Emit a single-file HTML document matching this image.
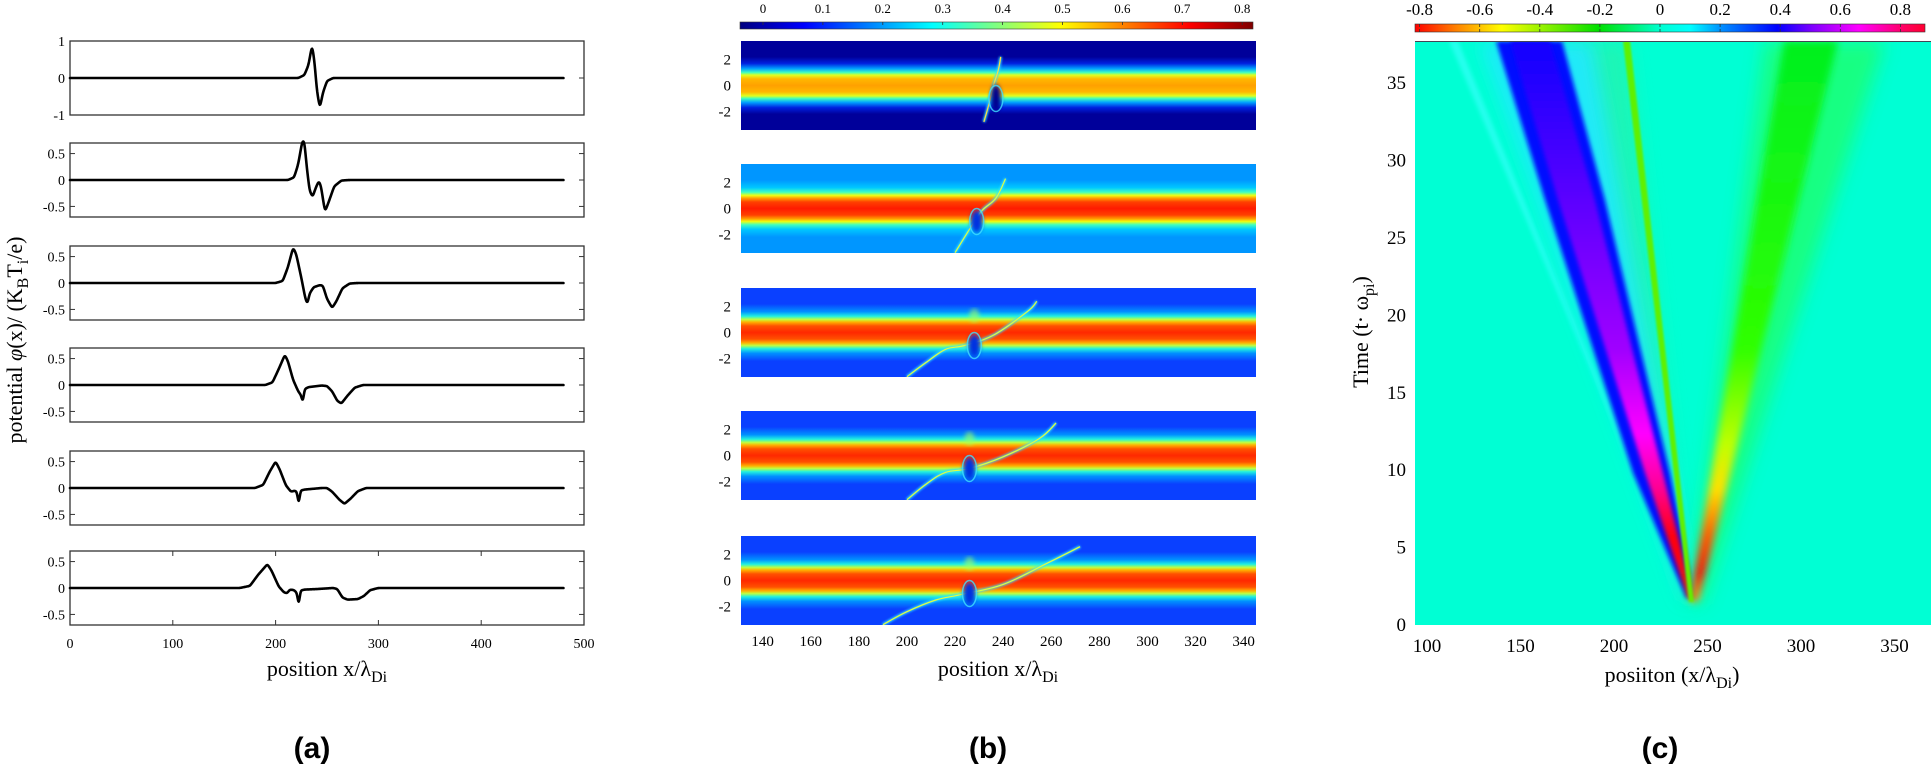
<!DOCTYPE html>
<html><head><meta charset="utf-8">
<style>html,body{margin:0;padding:0;background:#fff;}svg{display:block}</style>
</head><body>
<svg id="s" width="1931" height="766" xmlns="http://www.w3.org/2000/svg" font-family="'Liberation Serif', serif">
<defs>
<linearGradient id="jet" x1="0" x2="1" y1="0" y2="0">
<stop offset="0" stop-color="#00007f"/><stop offset="0.125" stop-color="#0000ff"/><stop offset="0.375" stop-color="#00ffff"/><stop offset="0.625" stop-color="#ffff00"/><stop offset="0.875" stop-color="#ff0000"/><stop offset="1" stop-color="#7f0000"/>
</linearGradient>
<linearGradient id="hsv" x1="0" x2="1" y1="0" y2="0">
<stop offset="0" stop-color="#ff0000"/><stop offset="0.08" stop-color="#ff8000"/><stop offset="0.17" stop-color="#ffff00"/><stop offset="0.36" stop-color="#00e000"/><stop offset="0.48" stop-color="#00ffd0"/><stop offset="0.54" stop-color="#00ffff"/><stop offset="0.6" stop-color="#0090ff"/><stop offset="0.71" stop-color="#0000ff"/><stop offset="0.78" stop-color="#8000ff"/><stop offset="0.87" stop-color="#ff00ff"/><stop offset="0.96" stop-color="#ff0060"/><stop offset="1" stop-color="#ff0030"/>
</linearGradient>
<linearGradient id="lband" gradientUnits="userSpaceOnUse" x1="0" y1="41" x2="0" y2="602">
<stop offset="0" stop-color="#1000ff"/><stop offset="0.3" stop-color="#6000ff"/><stop offset="0.55" stop-color="#a000ff"/><stop offset="0.7" stop-color="#ff00ff"/><stop offset="0.8" stop-color="#ff0090"/><stop offset="0.88" stop-color="#ff0010"/><stop offset="1" stop-color="#ff0000"/>
</linearGradient>
<linearGradient id="rband" gradientUnits="userSpaceOnUse" x1="0" y1="41" x2="0" y2="602">
<stop offset="0" stop-color="#00f020"/><stop offset="0.55" stop-color="#30ff00"/><stop offset="0.72" stop-color="#c0ff00"/><stop offset="0.8" stop-color="#ffe000"/><stop offset="0.88" stop-color="#ff6000"/><stop offset="0.95" stop-color="#ff1000"/><stop offset="1" stop-color="#ffa000"/>
</linearGradient>
<filter id="bl2" x="-50%" y="-10%" width="200%" height="120%"><feGaussianBlur stdDeviation="2"/></filter>
<filter id="bl4" x="-50%" y="-10%" width="200%" height="120%"><feGaussianBlur stdDeviation="4"/></filter>
<filter id="bl9" x="-50%" y="-10%" width="200%" height="120%"><feGaussianBlur stdDeviation="9"/></filter>
<filter id="bl1" x="-50%" y="-50%" width="200%" height="200%"><feGaussianBlur stdDeviation="1"/></filter>
<clipPath id="cc"><rect x="1415" y="41" width="516" height="584"/></clipPath>
</defs>
</svg>
<script>
var S=document.getElementById('s'),NS='http://www.w3.org/2000/svg';
function el(t,a,txt,p){var e=document.createElementNS(NS,t);for(var k in a)e.setAttribute(k,a[k]);if(txt!=null)e.textContent=txt;(p||S).appendChild(e);return e;}
function spline(pts){var d='M'+pts[0][0].toFixed(2)+' '+pts[0][1].toFixed(2);for(var i=0;i<pts.length-1;i++){var p0=pts[i-1]||pts[i],p1=pts[i],p2=pts[i+1],p3=pts[i+2]||p2;var t=0.18;
d+=' C'+(p1[0]+(p2[0]-p0[0])*t).toFixed(2)+' '+(p1[1]+(p2[1]-p0[1])*t).toFixed(2)+' '+(p2[0]-(p3[0]-p1[0])*t).toFixed(2)+' '+(p2[1]-(p3[1]-p1[1])*t).toFixed(2)+' '+p2[0].toFixed(2)+' '+p2[1].toFixed(2);}return d;}
var defs=S.querySelector('defs');
// ---------- Panel a ----------
var tops=[41,143,246,348,451,551],H=74,X0=70,X1=584;
function ax(X){return X0+X*(X1-X0)/500;}
var curves=[
[[0,0],[222,0],[228,0.08],[232,0.35],[235.5,0.9],[238,0.4],[240,-0.3],[243,-0.82],[246,-0.4],[250,-0.08],[256,0],[480,0]],
[[0,0],[212,0],[218,0.05],[222,0.3],[226,0.74],[228,0.74],[230,0.3],[233,-0.2],[236,-0.32],[239,-0.15],[242,-0.02],[244,-0.1],[248,-0.6],[251,-0.45],[257,-0.12],[264,-0.01],[272,0],[480,0]],
[[0,0],[200,0],[207,0.04],[212,0.3],[217,0.67],[220,0.55],[225,0.1],[229,-0.3],[231,-0.4],[233,-0.2],[237,-0.08],[243,-0.04],[246,-0.05],[250,-0.3],[255,-0.47],[259,-0.35],[265,-0.1],[272,-0.01],[280,0],[480,0]],
[[0,0],[190,0],[197,0.05],[203,0.3],[209,0.57],[212,0.45],[217,0.1],[222,-0.12],[225,-0.2],[226.5,-0.36],[228,-0.08],[232,-0.04],[245,-0.01],[250,-0.02],[255,-0.12],[260,-0.3],[264,-0.35],[270,-0.2],[277,-0.05],[285,0],[480,0]],
[[0,0],[180,0],[188,0.06],[194,0.3],[200,0.5],[204,0.35],[210,0.05],[215,-0.07],[219,-0.05],[221,-0.08],[222.5,-0.36],[224,-0.05],[228,-0.03],[245,0],[250,0],[255,-0.07],[262,-0.22],[267,-0.3],[273,-0.2],[280,-0.06],[288,0],[480,0]],
[[0,0],[165,0],[175,0.04],[183,0.25],[192,0.45],[196,0.33],[203,0.03],[208,-0.08],[211,-0.1],[214,-0.03],[218,-0.04],[221,-0.1],[222.5,-0.38],[224,-0.05],[228,-0.03],[240,-0.02],[256,0],[260,-0.02],[265,-0.18],[270,-0.22],[280,-0.21],[286,-0.15],[292,-0.04],[300,0],[480,0]]];
function interp(pts,X){for(var j=0;j<pts.length-1;j++){if(X>=pts[j][0]&&X<=pts[j+1][0]){var f=(X-pts[j][0])/(pts[j+1][0]-pts[j][0]);return pts[j][1]+f*(pts[j+1][1]-pts[j][1]);}}return 0;}
for(var i=0;i<6;i++){var T=tops[i];var rng=i==0?1:0.7;
var ay=function(v){return T+(rng-v)/(2*rng)*H;};
el('rect',{x:X0,y:T,width:X1-X0,height:H,fill:'none',stroke:'#333','stroke-width':1.3});
var tk=i==0?[1,0,-1]:[0.5,0,-0.5];
tk.forEach(function(v){var y=ay(v);el('line',{x1:X0,x2:X0+5,y1:y,y2:y,stroke:'#333'});el('line',{x1:X1-5,x2:X1,y1:y,y2:y,stroke:'#333'});
el('text',{x:X0-5,y:y+5,'text-anchor':'end','font-size':14},String(v));});
var raw=[],N=960;for(var k=0;k<=N;k++)raw.push(interp(curves[i],k*0.5));
var sm=[],sig=1.6,w=[],R=6;for(var q=-R;q<=R;q++)w.push(Math.exp(-q*q/(2*sig*sig)));
for(var k=0;k<=N;k++){var a=0,b=0;for(var q=-R;q<=R;q++){var kk=k+q;if(kk<0||kk>N)continue;a+=raw[kk]*w[q+R];b+=w[q+R];}sm.push(a/b);}
var d='';for(var k=0;k<=N;k++){d+=(k?'L':'M')+ax(k*0.5).toFixed(2)+' '+ay(sm[k]).toFixed(2);}
el('path',{d:d,fill:'none',stroke:'#000','stroke-width':2.6,'stroke-linejoin':'round','stroke-linecap':'round'});
if(i==5){for(var X=0;X<=500;X+=100){var x=ax(X);el('line',{x1:x,x2:x,y1:T,y2:T+5,stroke:'#333'});el('line',{x1:x,x2:x,y1:T+H-5,y2:T+H,stroke:'#333'});el('text',{x:x,y:648,'text-anchor':'middle','font-size':14},String(X));}}
}
el('text',{x:327,y:676,'text-anchor':'middle','font-size':22},null).innerHTML='position x/λ<tspan font-size="16" dy="6">Di</tspan>';
var yl=el('text',{transform:'translate(22,340) rotate(-90)','text-anchor':'middle','font-size':22});
yl.innerHTML='potential <tspan font-style="italic">φ</tspan>(x)/ (K<tspan font-size="16" dy="6">B</tspan><tspan dy="-6">T</tspan><tspan font-size="16" dy="6">i</tspan><tspan dy="-6">/e)</tspan>';
// ---------- Panel b ----------
el('rect',{x:740,y:22,width:513,height:7,fill:'url(#jet)',stroke:'#333','stroke-width':0.6});
for(var v=0;v<=8;v++){var x=763+v*59.9;el('line',{x1:x,x2:x,y1:22,y2:25,stroke:'#333','stroke-width':0.8});el('text',{x:x,y:13,'text-anchor':'middle','font-size':13},v==0?'0':(v/10).toFixed(1));}
var bt=[41,164,288,411,536],BH=89,BX0=741,BX1=1256;
function bx(X){return BX0+(X-131)*2.405;}
var schemes=[
{bg:'#00009a',st:[[0,'#ffa000'],[0.5,'#ffb800'],[0.8,'#e0ff20'],[1.0,'#40ffc0'],[1.3,'#00a0ff'],[1.7,'#0020e0'],[2.2,'#00009a']]},
{bg:'#0096ff',st:[[0,'#ff1a00'],[0.5,'#ff4000'],[0.8,'#ffa000'],[1.0,'#f0ff10'],[1.25,'#40ffc0'],[1.6,'#00c8ff'],[2.2,'#0096ff']]},
{bg:'#0a40ff',st:[[0,'#ff2800'],[0.5,'#ff5000'],[0.8,'#ffb000'],[1.0,'#c0ff40'],[1.25,'#20f0e0'],[1.6,'#0090ff'],[2.2,'#0a40ff']]}];
for(var s=0;s<3;s++){var g=el('linearGradient',{id:'bg'+s,x1:0,x2:0,y1:0,y2:1},null,defs);var st=schemes[s].st;var arr=[];
for(var j=st.length-1;j>=0;j--)arr.push([0.5-st[j][0]*13/BH,st[j][1]]);for(var j=1;j<st.length;j++)arr.push([0.5+st[j][0]*13/BH,st[j][1]]);
arr.forEach(function(a){el('stop',{offset:a[0].toFixed(4),'stop-color':a[1]},null,g);});}
var fil=[
[[232,-2.8],[234,-1.5],[236,0],[238,1.2],[239,2.2]],
[[220,-3.4],[226,-1.6],[231,-0.2],[237,0.8],[241,2.3]],
[[200,-3.4],[208,-2.3],[216,-1.3],[224,-1.0],[236,-0.2],[250,1.6],[254,2.4]],
[[200,-3.4],[208,-2.2],[216,-1.3],[226,-1.0],[240,-0.1],[255,1.3],[262,2.5]],
[[190,-3.4],[200,-2.4],[212,-1.5],[222,-1.1],[240,-0.3],[258,1.3],[272,2.6]]];
for(var i=0;i<5;i++){var T=bt[i],mid=T+BH/2,sc=i==0?0:(i==1?1:2);
var cid='bc'+i;var cp=el('clipPath',{id:cid},null,defs);el('rect',{x:BX0,y:T,width:BX1-BX0,height:BH},null,cp);
var gg=el('g',{'clip-path':'url(#'+cid+')'});
el('rect',{x:BX0,y:T,width:BX1-BX0,height:BH,fill:'url(#bg'+sc+')'},null,gg);
var hx=i==0?237:(i==1?229:(i==2?228:226));
if(i>=2){el('ellipse',{cx:bx(hx),cy:mid-1.3*13,rx:5,ry:7,fill:'#a0ff60',opacity:0.6,filter:'url(#bl2)'},null,gg);}
var pts=fil[i].map(function(p){return [bx(p[0]),mid-p[1]*13];});
el('path',{d:spline(pts),fill:'none',stroke:'#30e0ff','stroke-width':3,opacity:0.9,filter:'url(#bl1)'},null,gg);
el('path',{d:spline(pts),fill:'none',stroke:i==0?'#ffe040':'#e0ff40','stroke-width':1.2},null,gg);
el('ellipse',{cx:bx(hx),cy:mid+1.0*13,rx:i==0?5:6,ry:i==0?14:11,fill:i==0?'#000090':'#0030e0',filter:'url(#bl2)'},null,gg);
el('ellipse',{cx:bx(hx),cy:mid+1.0*13,rx:7,ry:13,fill:'none',stroke:'#40e0ff','stroke-width':1.5,opacity:0.8},null,gg);
[2,0,-2].forEach(function(v){el('text',{x:731,y:mid-v*13+5,'text-anchor':'end','font-size':15},String(v));});
}
for(var X=140;X<=340;X+=20){el('text',{x:bx(X),y:646,'text-anchor':'middle','font-size':15},String(X));}
el('text',{x:998,y:676,'text-anchor':'middle','font-size':22}).innerHTML='position x/λ<tspan font-size="16" dy="6">Di</tspan>';
// ---------- Panel c ----------
el('rect',{x:1415,y:24,width:510,height:8,fill:'url(#hsv)',stroke:'#333','stroke-width':0.6});
for(var k=-4;k<=4;k++){var v=k*0.2,x=1660+v*300.5;el('line',{x1:x,x2:x,y1:24,y2:27,stroke:'#333','stroke-width':0.8});el('line',{x1:x,x2:x,y1:29,y2:32,stroke:'#333','stroke-width':0.8});
el('text',{x:x,y:15,'text-anchor':'middle','font-size':17},k==0?'0':v.toFixed(1));}
var cg=el('g',{'clip-path':'url(#cc)'});
el('rect',{x:1415,y:41,width:516,height:584,fill:'#00ffd4'},null,cg);
el('polygon',{points:'1449,41 1458,41 1690,600',fill:'#40ffff',opacity:0.6,filter:'url(#bl2)'},null,cg);
el('polygon',{points:'1565,41 1628,41 1690,600 1684,600',fill:'#30f0a0',opacity:0.6,filter:'url(#bl9)'},null,cg);
el('polygon',{points:'1480,41 1592,41 1695,600 1685,600',fill:'#20e8ff',opacity:0.9,filter:'url(#bl9)'},null,cg);
el('polygon',{points:'1496,41 1562,41 1605,200 1670,473 1695,598 1686,598 1633,473 1545,200',fill:'#0010ff',filter:'url(#bl2)'},null,cg);
el('polygon',{points:'1510,41 1550,41 1595,200 1663,473 1693,598 1688,598 1645,473 1558,200',fill:'url(#lband)',filter:'url(#bl2)'},null,cg);
el('polygon',{points:'1765,41 1885,41 1703,604 1690,604',fill:'#20ff60',opacity:0.7,filter:'url(#bl9)'},null,cg);
el('polygon',{points:'1784,41 1838,41 1698,602 1690,602',fill:'url(#rband)',filter:'url(#bl4)'},null,cg);
el('polygon',{points:'1623,41 1630,41 1694,602 1689,602',fill:'#60f000',filter:'url(#bl1)'},null,cg);
el('line',{x1:1415,x2:1931,y1:41.5,y2:41.5,stroke:'#445','stroke-width':1});
for(var t=0;t<=35;t+=5){var y=625-t*15.48;el('text',{x:1406,y:y+6,'text-anchor':'end','font-size':19},String(t));}
for(var X=100;X<=350;X+=50){var x=1427+(X-100)*1.87;el('text',{x:x,y:652,'text-anchor':'middle','font-size':19},String(X));}
el('text',{x:1672,y:682,'text-anchor':'middle','font-size':22}).innerHTML='posiiton (x/λ<tspan font-size="16" dy="6">Di</tspan><tspan dy="-6">)</tspan>';
el('text',{transform:'translate(1368,332) rotate(-90)','text-anchor':'middle','font-size':22}).innerHTML='Time  (t· ω<tspan font-size="16" dy="6">pi</tspan><tspan dy="-6">)</tspan>';
[['(a)',312],['(b)',988],['(c)',1660]].forEach(function(a){el('text',{x:a[1],y:758,'text-anchor':'middle','font-size':30,'font-weight':'bold','font-family':"'Liberation Sans', sans-serif"},a[0]);});
</script>
</body></html>
